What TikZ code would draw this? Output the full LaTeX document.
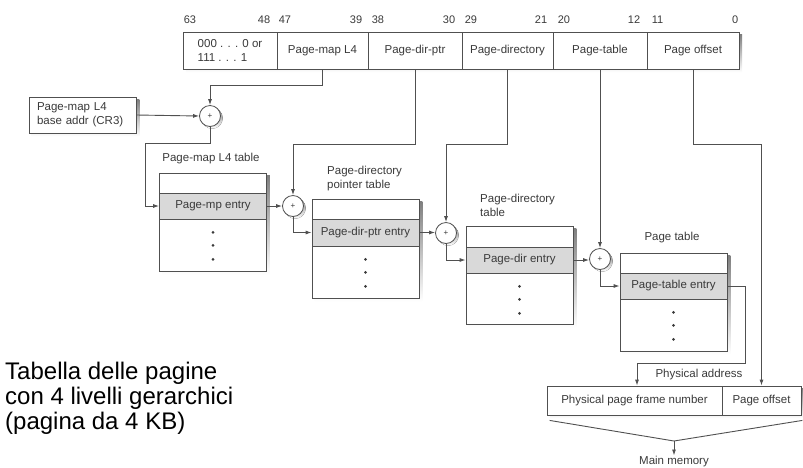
\documentclass[tikz,border=0pt]{standalone}
\usepackage{fontspec}
\setmainfont{Liberation Sans}
\usetikzlibrary{arrows.meta,calc}
\definecolor{ink}{HTML}{3A3A3A}
\definecolor{wire}{HTML}{505050}
\definecolor{bandgray}{HTML}{D9D9D9}
\definecolor{shade}{HTML}{9C9C9C}
\pgfdeclarelayer{shadowlayer}
\pgfsetlayers{shadowlayer,main}
% grey drop shadow behind a rectangular node (offset right and down)
\newcommand\boxshade[1]{\begin{pgfonlayer}{shadowlayer}
  \fill[shade] ($(#1.south west)+(3,3)$) rectangle ($(#1.north east)+(3,3)$);
\end{pgfonlayer}}
% grey drop shadow behind a round node
\newcommand\roundshade[1]{\begin{pgfonlayer}{shadowlayer}
  \fill[shade] ($(#1.center)+(2.2,2.2)$) circle[radius=10.5pt];
\end{pgfonlayer}}

\begin{document}
\begin{tikzpicture}[x=1pt,y=-1pt,
  every node/.style={text=ink, font=\fontsize{11.5}{14}\selectfont, inner sep=0pt},
  regcell/.style={draw=wire, line width=0.8pt, fill=white, minimum height=37pt},
  bitno/.style={font=\fontsize{11}{13}\selectfont},
  tablebox/.style={draw=wire, line width=0.8pt, fill=white, minimum width=107pt, minimum height=98pt},
  entry/.style={draw=wire, line width=0.8pt, fill=bandgray, minimum width=107pt, minimum height=26pt},
  adder/.style={circle, draw=wire, line width=0.8pt, fill=white, minimum size=21pt, font=\fontsize{8}{8}\selectfont},
  wireline/.style={draw=wire, line width=0.9pt},
  link/.style={wireline, -{Latex[length=6pt,width=4pt]}},
  tdot/.style={circle, fill=ink, minimum size=3pt}
]
\useasboundingbox (0,0) rectangle (803,467);

% ---- virtual address register ----
\node[draw=wire, fill=white, minimum width=556pt, minimum height=37pt] (reg) at (461,50.5) {};
\boxshade{reg}
\node[regcell, minimum width=94pt, align=left] (r1) at (230,50.5) {000 . . . 0 or\\111 . . . 1};
\node[regcell, minimum width=91pt] (r2) at (322.5,50.5) {Page-map L4};
\node[regcell, minimum width=94pt] (r3) at (415,50.5) {Page-dir-ptr};
\node[regcell, minimum width=91pt] (r4) at (507.5,50.5) {Page-directory};
\node[regcell, minimum width=94pt] (r5) at (600,50.5) {Page-table};
\node[regcell, minimum width=92pt] (r6) at (693,50.5) {Page offset};

% bit positions
\node[bitno, anchor=west] at ([xshift=1pt,yshift=12pt]r1.north west) {63};
\node[bitno, anchor=east] at ([xshift=-7pt,yshift=12pt]r1.north east) {48};
\node[bitno, anchor=west] at ([xshift=2pt,yshift=12pt]r2.north west) {47};
\node[bitno, anchor=east] at ([xshift=-6pt,yshift=12pt]r2.north east) {39};
\node[bitno, anchor=west] at ([xshift=4pt,yshift=12pt]r3.north west) {38};
\node[bitno, anchor=east] at ([xshift=-7pt,yshift=12pt]r3.north east) {30};
\node[bitno, anchor=west] at ([xshift=3pt,yshift=12pt]r4.north west) {29};
\node[bitno, anchor=east] at ([xshift=-6pt,yshift=12pt]r4.north east) {21};
\node[bitno, anchor=west] at ([xshift=5pt,yshift=12pt]r5.north west) {20};
\node[bitno, anchor=east] at ([xshift=-7pt,yshift=12pt]r5.north east) {12};
\node[bitno, anchor=west] at ([xshift=5pt,yshift=12pt]r6.north west) {11};
\node[bitno, anchor=east] at ([xshift=-1pt,yshift=12pt]r6.north east) {0};

% ---- CR3 ----
\node[draw=wire, line width=0.8pt, fill=white, text width=91pt, inner xsep=8pt,
      minimum height=36pt, align=left] (cr3) at (82.5,115) {Page-map L4\\base addr (CR3)};
\boxshade{cr3}

% ---- adders ----
\node[adder] (p1) at (210,116) {+};
\node[adder] (p2) at (293,206) {+};
\node[adder] (p3) at (446,233) {+};
\node[adder] (p4) at (600,259) {+};
\foreach \p in {p1,p2,p3,p4}{\roundshade{\p}}

% ---- tables ----
\node[tablebox] (t1) at (213,222) {};
\node[entry] (e1) at (213,206) {Page-mp entry};
\node at (211,159) {Page-map L4 table};

\node[tablebox, minimum height=99pt] (t2) at (365.5,248.5) {};
\node[entry, minimum height=27pt] (e2) at (365.5,232.5) {Page-dir-ptr entry};
\node[anchor=west, align=left] at (327,179) {Page-directory\\pointer table};

\node[tablebox] (t3) at (519.5,275) {};
\node[entry] (e3) at (519.5,260) {Page-dir entry};
\node[anchor=west, align=left] at (480,205) {Page-directory\\table};

\node[tablebox] (t4) at (673.5,302) {};
\node[entry] (e4) at (673.5,286) {Page-table entry};
\node at (672,238) {Page table};
\foreach \t in {t1,t2,t3,t4}{\boxshade{\t}}

% ellipsis dots below each entry
\foreach \e in {e1,e2,e3,e4}{
  \foreach \d in {13,26,40}{
    \node[tdot] at ([yshift=-\d pt]\e.south) {};
  }
}

% ---- physical address ----
\node[draw=wire, fill=white, minimum width=254pt, minimum height=29pt] (pa) at (674,400.5) {};
\boxshade{pa}
\node[draw=wire, line width=0.8pt, fill=white, minimum width=175pt, minimum height=29pt] (pfn) at (634.5,400.5) {Physical page frame number};
\node[draw=wire, line width=0.8pt, fill=white, minimum width=79pt, minimum height=29pt] (off) at (761.5,400.5) {Page offset};
\node at (699,375) {Physical address};
\node[anchor=north] (mm) at (674,455.5) {Main memory};
\coordinate (merge) at (674,441);
\coordinate (pturn) at (637,363);

% ---- connectors ----
\draw[link] (r2.south) -- ++(0,16) -| (p1.north);
\draw[link] (cr3.east) -- (p1.west);
\draw[link] (p1.south) |- (145,143) |- (e1.west);
\draw[link] (e1.east) -- (p2.west);
\draw[link] (r3.south) -- ++(0,75) -| (p2.north);
\draw[link] (p2.south) |- (e2.west);
\draw[link] (e2.east) -- (p3.west |- e2.east);
\draw[link] (r4.south) -- ++(0,75) -| (p3.north);
\draw[link] (p3.south) |- (e3.west);
\draw[link] (e3.east) -- (p4.west |- e3.east);
\draw[link] (r5.south) -- (p4.north);
\draw[link] (p4.south) |- (e4.west);
\draw[link] (e4.east) -- ++(18,0) |- (pturn) -- (pturn |- pfn.north);
\draw[link] (r6.south) -- ++(0,75) -| (off.north);
\draw[wireline] ($(pfn.south west)+(3,5)$) -- (merge) -- ($(off.south east)+(1,5)$);
\draw[link] (merge) -- (mm.north);

% ---- caption ----
\node[text=black, anchor=north west, align=left, font=\fontsize{24}{25}\selectfont] at (5,361.5)
  {Tabella delle pagine\\con 4 livelli gerarchici\\(pagina da 4 KB)};
\end{tikzpicture}
\end{document}
